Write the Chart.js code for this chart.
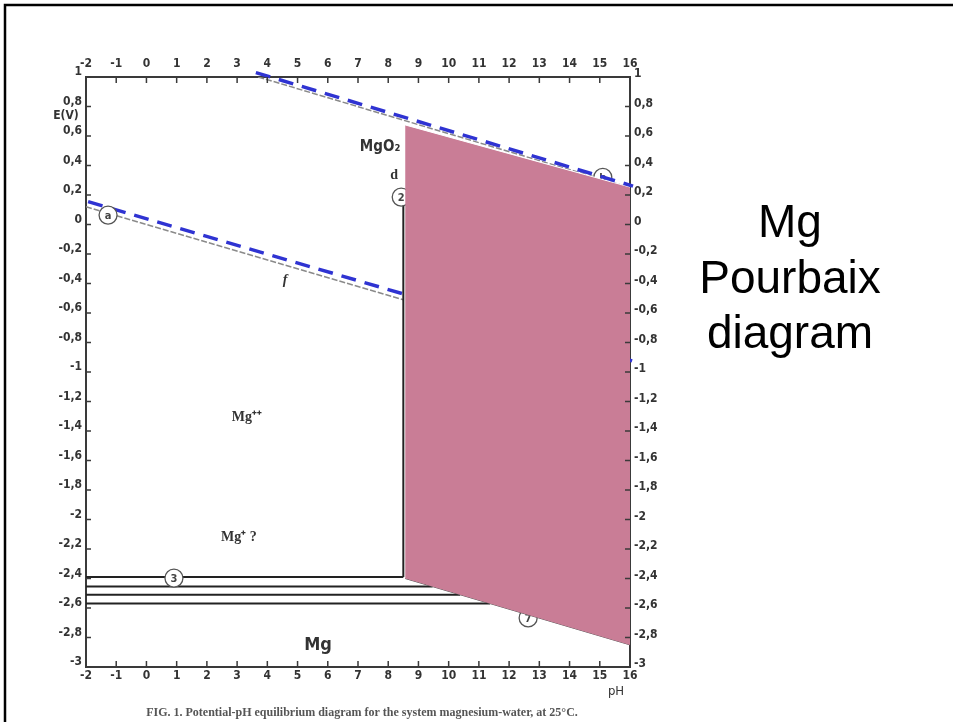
<!DOCTYPE html>
<html>
<head>
<meta charset="utf-8">
<script src="https://cdn.jsdelivr.net/npm/chart.js@4.4.1/dist/chart.umd.min.js"></script>
<style>
  html, body { margin: 0; padding: 0; background: #fff; }
  canvas { display: block; }
</style>
</head>
<body>
<canvas id="pourbaix" width="953" height="722"></canvas>
<script>
// axis ticks
const phTicks = [-2, -1, 0, 1, 2, 3, 4, 5, 6, 7, 8, 9, 10, 11, 12, 13, 14, 15, 16];
const eTicks = [1, 0.8, 0.6, 0.4, 0.2, 0, -0.2, -0.4, -0.6, -0.8, -1, -1.2, -1.4, -1.6, -1.8, -2, -2.2, -2.4, -2.6, -2.8, -3];

// water stability lines (blue dashed overlay)
const waterUpperPh = [3.62, 16.1];
const waterUpperE = [1.03, 0.26];
const waterLowerPh = [-1.93, 16.07];
const waterLowerE = [0.155, -0.925];

// original scanned lines a / b (grey)
const lineAPh = [-2, 8.5];
const lineAE = [0.12, -0.51];
const lineBPh = [3.7, 16];
const lineBE = [1.0, 0.25];

// pink passivation region
const pinkPh = [8.56, 16];
const pinkTopE = [0.675, 0.254];
const pinkBottomE = [-2.40, -2.85];

// Mg / Mg++ equilibrium levels and where they stop
const mgLevelE = [-2.39, -2.455, -2.51, -2.57];
const mgLevelEndPh = [8.5, 9.47, 10.38, 11.37];

// vertical boundary (2)
const boundaryPh = [8.5, 8.5];
const boundaryE = [0.14, -2.39];

// numbered circles
const circleTags = ['a', '2', '3', '7', 'b'];
const circlePh = [-1.27, 8.43, 0.91, 12.63, 15.1];
const circleE = [0.064, 0.186, -2.397, -2.667, 0.32];

// region labels
const regionText = ['MgO₂', 'Mg⁺⁺', 'Mg⁺ ?', 'Mg', 'f', 'd'];
const regionPh = [7.73, 3.32, 3.06, 5.68, 4.59, 8.2];
const regionE = [0.525, -1.31, -2.12, -2.85, -0.376, 0.335];

const pts = (xs, ys) => xs.map((x, i) => ({ x: x, y: ys[i] }));
const fmt = v => String(Math.round(v * 10) / 10).replace('.', ',');

const BLUE = '#2f33d2';
const PINK = '#c97d96';
const INK = '#3a3a3a';
const tickFont = { family: '"DejaVu Sans Condensed", "DejaVu Sans", sans-serif', size: 12, weight: 'bold' };

const datasets = [
  { label: 'waterUpper', data: pts(waterUpperPh, waterUpperE), borderColor: BLUE, borderWidth: 3.5,
    borderDash: [15, 9], pointRadius: 0, fill: false, clip: false, order: 0 },
  { label: 'pinkTop', data: pts(pinkPh, pinkTopE), borderColor: '#ffffff', borderWidth: 1,
    backgroundColor: PINK, pointRadius: 0, fill: '+1', order: 1 },
  { label: 'pinkBottom', data: pts(pinkPh, pinkBottomE), borderColor: '#555', borderWidth: 1,
    pointRadius: 0, fill: false, order: 1 },
  { label: 'circles', data: pts(circlePh, circleE), showLine: false, pointRadius: 9,
    pointBorderColor: '#555', pointBackgroundColor: '#fff', pointBorderWidth: 1.3, order: 2 },
  { label: 'boundary', data: pts(boundaryPh, boundaryE), borderColor: '#222', borderWidth: 2,
    pointRadius: 0, fill: false, order: 3 },
  { label: 'waterLower', data: pts(waterLowerPh, waterLowerE), borderColor: BLUE, borderWidth: 3.5,
    borderDash: [15, 9], pointRadius: 0, fill: false, clip: false, order: 4 },
  { label: 'lineA', data: pts(lineAPh, lineAE), borderColor: '#8a8a8a', borderWidth: 1.5,
    borderDash: [6, 2], pointRadius: 0, fill: false, order: 5 },
  { label: 'lineB', data: pts(lineBPh, lineBE), borderColor: '#8a8a8a', borderWidth: 1.5,
    borderDash: [6, 2], pointRadius: 0, fill: false, order: 5 }
];
mgLevelE.forEach((e, i) => {
  datasets.push({ label: 'level' + i, data: pts([-2, mgLevelEndPh[i]], [e, e]), borderColor: '#222',
    borderWidth: 2, pointRadius: 0, fill: false, order: 3 });
});

// tick marks pointing into the plot, frame, labels and captions
const decor = {
  id: 'decor',
  afterDatasetDraw(chart, args) {
    if (args.meta.label !== 'circles') return;
    const ctx = chart.ctx, sx = chart.scales.x, sy = chart.scales.y;
    ctx.save();
    ctx.fillStyle = '#444';
    ctx.font = 'bold 11px "DejaVu Sans Condensed", sans-serif';
    ctx.textAlign = 'center';
    ctx.textBaseline = 'middle';
    circleTags.forEach((t, i) => ctx.fillText(t, sx.getPixelForValue(circlePh[i]), sy.getPixelForValue(circleE[i]) + 1));
    ctx.restore();
  },
  afterDraw(chart) {
    const ctx = chart.ctx, a = chart.chartArea;
    const sx = chart.scales.x, sy = chart.scales.y;
    ctx.save();
    ctx.strokeStyle = INK;
    ctx.lineWidth = 1.5;
    ctx.beginPath();
    phTicks.forEach(v => {
      const px = sx.getPixelForValue(v);
      ctx.moveTo(px, a.top); ctx.lineTo(px, a.top + 6);
      ctx.moveTo(px, a.bottom); ctx.lineTo(px, a.bottom - 6);
    });
    eTicks.forEach(v => {
      const py = sy.getPixelForValue(v);
      ctx.moveTo(a.left, py); ctx.lineTo(a.left + 5, py);
      ctx.moveTo(a.right, py); ctx.lineTo(a.right - 5, py);
    });
    ctx.stroke();

    // region labels
    ctx.fillStyle = '#333';
    ctx.textAlign = 'center';
    ctx.textBaseline = 'middle';
    regionText.forEach((t, i) => {
      if (t === 'Mg') ctx.font = 'bold 18px "DejaVu Sans Condensed", sans-serif';
      else if (t === 'MgO₂') ctx.font = 'bold 15px "DejaVu Sans Condensed", sans-serif';
      else if (t === 'f') ctx.font = 'italic bold 14px "Liberation Serif", serif';
      else ctx.font = 'bold 14px "Liberation Serif", serif';
      ctx.fillText(t, sx.getPixelForValue(regionPh[i]), sy.getPixelForValue(regionE[i]));
    });

    // axis names
    ctx.font = 'bold 12px "DejaVu Sans Condensed", sans-serif';
    ctx.fillText('E(V)', 66, 116);
    ctx.font = '13px "DejaVu Sans Condensed", sans-serif';
    ctx.fillText('pH', 616, 692);

    // caption
    ctx.font = 'bold 12px "Liberation Serif", serif';
    ctx.fillStyle = '#555';
    ctx.fillText('FIG. 1. Potential-pH equilibrium diagram for the system magnesium-water, at 25°C.', 362, 713);

    // slide title
    ctx.fillStyle = '#000';
    ctx.font = '46px "Liberation Sans", Arial, sans-serif';
    ctx.textBaseline = 'alphabetic';
    ctx.fillText('Mg', 790, 237);
    ctx.fillText('Pourbaix', 790, 293);
    ctx.fillText('diagram', 790, 348);

    // slide frame (top and left)
    ctx.strokeStyle = '#000';
    ctx.lineWidth = 2.5;
    ctx.beginPath();
    ctx.moveTo(5, 722); ctx.lineTo(5, 5); ctx.lineTo(953, 5);
    ctx.stroke();
    ctx.restore();
  }
};

const axisBase = {
  type: 'linear',
  grid: { drawOnChartArea: false, drawTicks: false },
  border: { display: true, color: INK, width: 2 },
  ticks: { color: '#333', font: tickFont, autoSkip: false, maxRotation: 0, callback: fmt }
};

new Chart(document.getElementById('pourbaix'), {
  type: 'line',
  data: { datasets: datasets },
  options: {
    responsive: false,
    animation: false,
    layout: { padding: 0 },
    plugins: { legend: { display: false }, tooltip: { enabled: false } },
    elements: { line: { tension: 0 } },
    scales: {
      x: Object.assign({}, axisBase, {
        position: 'bottom', min: -2, max: 16,
        ticks: Object.assign({}, axisBase.ticks, { padding: 2 }),
        afterBuildTicks: s => { s.ticks = phTicks.map(v => ({ value: v })); },
        afterFit: s => { s.height = 55; }
      }),
      xTop: Object.assign({}, axisBase, {
        position: 'top', min: -2, max: 16,
        ticks: Object.assign({}, axisBase.ticks, { padding: 6 }),
        afterBuildTicks: s => { s.ticks = phTicks.map(v => ({ value: v })); },
        afterFit: s => { s.height = 77; }
      }),
      y: Object.assign({}, axisBase, {
        position: 'left', min: -3, max: 1,
        ticks: Object.assign({}, axisBase.ticks, { padding: 4, labelOffset: -5 }),
        afterBuildTicks: s => { s.ticks = eTicks.map(v => ({ value: v })); },
        afterFit: s => { s.width = 86; }
      }),
      yRight: Object.assign({}, axisBase, {
        position: 'right', min: -3, max: 1,
        ticks: Object.assign({}, axisBase.ticks, { padding: 4, labelOffset: -3 }),
        afterBuildTicks: s => { s.ticks = eTicks.map(v => ({ value: v })); },
        afterFit: s => { s.width = 323; }
      })
    }
  },
  plugins: [decor]
});
</script>
</body>
</html>
